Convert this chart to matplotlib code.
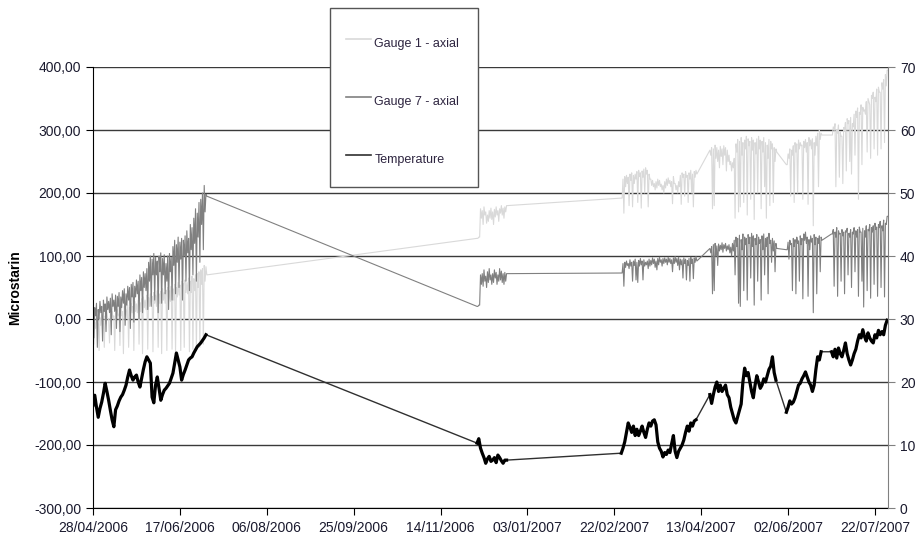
import matplotlib
matplotlib.use('Agg')
import matplotlib.pyplot as plt
import matplotlib.dates as mdates
from matplotlib.patches import Rectangle
from matplotlib.ticker import FuncFormatter

plt.rcParams['font.family'] = ['Liberation Sans', 'DejaVu Sans']

# start date of each logged block (one reading pair per day)
seg_start = ['2006-04-28', '2006-12-05', '2007-02-26', '2007-04-18', '2007-06-01', '2007-06-27']

# Gauge 1 - axial, daily high / low (microstrain)
g1_hi = [
    [0, -5, 5, -8, 2, 8, -2, 5, 10, 0, 8, 12, 5, 10, 15, 8, 18, 12, 20, 15,
     22, 18, 25, 20, 28, 24, 30, 26, 32, 35, 30, 38, 34, 40, 36, 42, 38, 45, 40, 44,
     48, 42, 46, 50, 45, 52, 48, 55, 50, 58, 54, 60, 56, 62, 58, 65, 60, 68, 64, 70,
     72, 75, 78, 80, 85, 83],
    [128, 130, 175, 172, 178, 170, 165, 172, 176, 170, 174, 178, 172, 175, 180, 176, 178, 180],
    [192, 222, 226, 228, 225, 230, 232, 228, 230, 234, 236, 232, 235, 238, 240, 236, 230, 222, 220, 215,
     218, 222, 220, 214, 212, 218, 222, 224, 220, 218, 226, 215, 212, 218, 228, 232, 230, 234, 228, 232,
     236, 230, 234, 236],
    [268, 272, 270, 276, 272, 268, 274, 270, 275, 272, 268, 260, 250, 248, 255, 278, 285, 282, 288, 280,
     284, 290, 286, 282, 288, 284, 280, 286, 290, 284, 282, 288, 280, 276, 285, 282, 278, 272, 270],
    [245, 262, 270, 268, 275, 280, 278, 284, 280, 276, 282, 285, 280, 288, 284, 286, 280, 290, 295, 300, 295],
    [292, 305, 310, 300, 308, 296, 290, 304, 312, 318, 315, 320, 310, 325, 330, 335, 328, 340, 336, 332,
     345, 350, 340, 355, 360, 352, 365, 368, 360, 375, 380, 388, 395],
]
g1_lo = [
    [-40, -15, -5, -50, -10, -2, -45, -8, 0, -38, -5, 2, -50, 0, 5, -42, 5, -55, 8, 2,
     -45, 5, 10, -50, 12, 10, -40, 12, -55, 18, 15, -48, 20, 22, -52, 25, 20, -45, 25, -55,
     30, 25, -50, 30, 28, -48, 30, -52, 35, 38, -50, 40, -45, 42, 40, -52, 42, -48, 45, -50,
     50, -45, 55, -40, 60, 70],
    [128, 130, 160, 150, 165, 152, 155, 160, 158, 150, 162, 165, 155, 168, 165, 160, 170, 180],
    [192, 168, 210, 215, 180, 220, 178, 215, 222, 185, 226, 176, 225, 200, 230, 178, 222, 212, 210, 205,
     208, 212, 210, 205, 200, 208, 212, 215, 210, 183, 215, 205, 200, 210, 182, 225, 195, 225, 185, 222,
     200, 178, 225, 230],
    [260, 175, 180, 255, 250, 240, 258, 245, 260, 235, 250, 245, 235, 240, 160, 265, 170, 178, 260, 185,
     270, 165, 275, 190, 268, 158, 262, 200, 270, 175, 265, 210, 160, 255, 180, 270, 185, 250, 265],
    [245, 255, 195, 260, 185, 265, 200, 270, 275, 190, 272, 265, 182, 275, 270, 148, 260, 275, 210, 285, 292],
    [292, 300, 210, 295, 225, 290, 215, 298, 235, 310, 250, 230, 305, 260, 320, 190, 325, 245, 330, 325,
     265, 345, 255, 350, 270, 345, 260, 360, 270, 365, 280, 370, 395],
]

# Gauge 7 - axial, daily high / low (microstrain)
g7_hi = [
    [22, 18, 25, 15, 28, 20, 30, 24, 35, 28, 33, 40, 30, 38, 36, 42, 35, 45, 48, 40,
     52, 50, 55, 58, 52, 62, 60, 70, 66, 75, 72, 80, 90, 100, 95, 104, 98, 92, 100, 105,
     96, 102, 88, 100, 104, 98, 115, 125, 118, 130, 122, 128, 125, 132, 140, 128, 150, 145, 160, 175,
     168, 185, 190, 200, 212, 198],
    [20, 22, 70, 72, 78, 68, 75, 80, 70, 72, 78, 74, 70, 80, 76, 72, 74, 72],
    [73, 88, 90, 92, 88, 94, 90, 92, 95, 90, 93, 96, 92, 94, 90, 92, 95, 93, 97, 95,
     92, 96, 98, 94, 96, 97, 95, 98, 96, 94, 97, 99, 96, 98, 95, 94, 97, 95, 93, 96,
     98, 95, 97, 99],
    [112, 115, 118, 120, 116, 119, 117, 121, 118, 120, 116, 118, 114, 120, 125, 130, 128, 133, 126, 135,
     130, 128, 134, 130, 136, 132, 128, 134, 130, 126, 132, 135, 128, 130, 136, 125, 128, 124, 120],
    [110, 122, 125, 120, 128, 126, 130, 124, 132, 128, 135, 138, 130, 126, 132, 128, 134, 130, 128, 132, 130],
    [135, 142, 138, 145, 140, 136, 142, 138, 140, 144, 136, 142, 138, 145, 140, 142, 146, 138, 144, 140,
     148, 142, 150, 145, 148, 152, 146, 150, 155, 148, 157, 152, 163],
]
g7_lo = [
    [-30, 5, -45, 0, 10, -35, 12, -20, 15, 10, -25, 20, 12, -15, 20, -20, 18, 25, -10, 22,
     30, -15, 35, -5, 35, 40, 0, 45, 10, 50, 45, 15, 60, 20, 70, 30, 70, 10, 75, 25,
     70, 40, 60, 15, 75, 30, 85, 40, 90, 50, 95, 30, 100, 60, 105, 45, 110, 70, 120, 60,
     130, 90, 150, 110, 170, 195],
    [20, 22, 55, 52, 60, 50, 58, 62, 55, 58, 65, 55, 60, 62, 58, 55, 60, 72],
    [73, 52, 82, 85, 80, 84, 60, 85, 62, 58, 84, 86, 62, 84, 86, 80, 84, 86, 88, 82,
     78, 86, 90, 84, 88, 90, 86, 90, 88, 75, 88, 90, 85, 78, 86, 65, 88, 62, 85, 60,
     88, 64, 90, 92],
    [105, 40, 45, 100, 85, 108, 110, 106, 112, 108, 110, 105, 100, 108, 70, 115, 25, 20, 110, 45,
     118, 30, 120, 65, 115, 22, 118, 60, 120, 30, 110, 70, 115, 40, 120, 90, 108, 75, 112],
    [110, 95, 118, 45, 115, 40, 120, 60, 118, 32, 125, 120, 36, 110, 122, 10, 118, 40, 120, 75, 125],
    [135, 52, 130, 36, 135, 60, 132, 40, 138, 70, 130, 50, 135, 75, 130, 36, 138, 60, 19, 130,
     45, 140, 33, 138, 55, 142, 36, 145, 50, 140, 35, 150, 163],
]

# Temperature, daily (deg C, right axis)
temp = [
    [16.3, 17.9, 16.0, 14.4, 15.8, 16.8, 18.2, 19.8, 18.5, 17.1, 15.5, 14.0, 12.9, 15.6, 16.2, 17.0, 17.6, 18.0, 18.7, 19.5,
     20.8, 21.9, 21.0, 20.3, 20.8, 21.1, 20.0, 19.2, 20.6, 22.0, 23.2, 24.0, 23.5, 23.0, 17.6, 16.7, 19.5, 20.8, 19.0, 17.1,
     18.0, 18.7, 19.0, 19.4, 19.8, 20.6, 21.4, 23.0, 24.6, 23.5, 22.4, 20.3, 21.2, 21.9, 22.7, 23.5, 23.8, 24.0, 24.6, 25.1,
     25.6, 25.9, 26.2, 26.6, 27.0, 27.5],
    [10.3, 11.0, 9.5, 8.7, 8.0, 7.1, 7.8, 8.2, 7.4, 7.6, 8.0, 7.2, 8.4, 8.0, 7.5, 7.1, 7.6, 7.6],
    [8.7, 9.5, 10.5, 12.0, 13.5, 12.8, 12.0, 13.0, 11.5, 12.5, 11.5, 12.2, 13.0, 12.0, 11.2, 12.5, 13.5, 13.0, 13.8, 14.0,
     13.2, 10.5, 9.5, 9.0, 8.1, 8.8, 8.5, 9.2, 8.8, 10.2, 11.5, 9.0, 8.0, 9.0, 9.5, 10.0, 10.8, 12.0, 13.0, 12.2,
     13.5, 13.0, 13.8, 14.0],
    [18.0, 16.6, 18.0, 19.2, 20.0, 18.5, 19.5, 18.5, 19.0, 19.5, 18.0, 17.5, 16.0, 15.0, 14.0, 13.5, 14.5, 15.5, 16.5, 20.0,
     22.2, 21.0, 21.5, 20.0, 18.5, 17.5, 19.5, 21.0, 20.0, 19.0, 19.5, 20.5, 20.0, 21.0, 22.0, 22.5, 24.0, 21.5, 20.3],
    [15.2, 16.0, 17.0, 16.5, 16.8, 17.5, 18.5, 19.5, 19.8, 20.5, 21.0, 21.6, 20.8, 20.0, 19.5, 18.5, 19.5, 22.0, 24.0, 23.5, 24.8],
    [24.8, 24.0, 25.2, 23.8, 25.4, 24.5, 24.0, 25.0, 26.2, 24.5, 23.5, 22.7, 23.5, 24.5, 25.2, 26.5, 27.5, 27.0, 28.3, 27.2,
     26.5, 27.8, 27.0, 26.5, 26.2, 27.5, 27.0, 28.2, 27.5, 28.0, 27.5, 29.0, 29.8],
]

tick_dates = ['2006-04-28', '2006-06-17', '2006-08-06', '2006-09-25', '2006-11-14',
              '2007-01-03', '2007-02-22', '2007-04-13', '2007-06-02', '2007-07-22']


def gauge_series(hi, lo):
    xs, ys = [], []
    for s, h, l in zip(seg_start, hi, lo):
        t0 = mdates.datestr2num(s)
        for i in range(len(h)):
            xs += [t0 + i, t0 + i + 0.5]
            ys += [h[i], l[i]]
    return xs, ys


def temp_segments():
    segs = []
    for s, t in zip(seg_start, temp):
        t0 = mdates.datestr2num(s)
        segs.append(([t0 + i for i in range(len(t))], t))
    return segs


fig = plt.figure(figsize=(9.16, 5.38), dpi=100)
ax = fig.add_axes([93 / 916, 1 - 508 / 538, (888 - 93) / 916, (508 - 67) / 538])
ax2 = ax.twinx()

x1, y1 = gauge_series(g1_hi, g1_lo)
x7, y7 = gauge_series(g7_hi, g7_lo)
h1, = ax.plot(x1, y1, color='#d9d9d9', lw=0.8, label='Gauge 1 - axial')
h7, = ax.plot(x7, y7, color='#808080', lw=0.8, label='Gauge 7 - axial')

segs = temp_segments()
tx = [v for s in segs for v in s[0]]
ty = [v for s in segs for v in s[1]]
ht, = ax2.plot(tx, ty, color='#303030', lw=1.0, label='Temperature')
for sx, sy in segs:
    ax2.plot(sx, sy, color='black', lw=2.3)

t_start = mdates.datestr2num('2006-04-28')
ax.set_xlim(t_start, t_start + 457.5)
ax.set_ylim(-300, 400)
ax2.set_ylim(0, 70)

ax.set_yticks(range(-300, 401, 100))
ax.yaxis.set_major_formatter(FuncFormatter(lambda v, p: f'{v:.2f}'.replace('.', ',')))
ax2.set_yticks(range(0, 71, 10))

ax.set_xticks([mdates.datestr2num(d) for d in tick_dates])
ax.xaxis.set_major_formatter(mdates.DateFormatter('%d/%m/%Y'))

ax.grid(axis='y', color='#3a3a3a', lw=1.0)
ax.set_axisbelow(True)

for a in (ax, ax2):
    a.spines['top'].set_visible(False)
ax.spines['right'].set_visible(False)
ax2.spines['left'].set_visible(False)
ax2.spines['bottom'].set_visible(False)
ax.spines['left'].set_color('black')
ax.spines['bottom'].set_color('black')
ax2.spines['right'].set_color('#808080')

ax.tick_params(axis='both', direction='out', length=5, labelsize=10, colors='#1a1a2e')
ax.tick_params(axis='x', pad=4)
ax2.tick_params(axis='y', direction='out', length=5, labelsize=10, colors='#1a1a2e', color='#808080')
ax.tick_params(axis='both', color='black')

fig.text(15 / 916, 1 - 287.5 / 538, 'Microstarin', rotation=90, ha='center', va='center',
         fontsize=10, fontweight='bold')

# legend box drawn separately so the rows can sit where they do in the original
fig.patches.append(Rectangle((330 / 916, 1 - 187 / 538), 148 / 916, 179 / 538,
                             transform=fig.transFigure, facecolor='white',
                             edgecolor='#555555', lw=1.0, zorder=3))
leg = fig.legend(handles=[h1, h7, ht], loc='upper left',
                 bbox_to_anchor=(330 / 916, 1 - 15 / 538), bbox_transform=fig.transFigure,
                 fontsize=9, frameon=False, borderpad=1.3,
                 handlelength=2.0, handleheight=2.5, handletextpad=0.25, labelspacing=2.76,
                 borderaxespad=0)
leg.set_zorder(4)
for t in leg.get_texts():
    t.set_color('#2e2540')
for lh in leg.get_lines():
    lh.set_linewidth(1.2)

fig.savefig('out.png', dpi=100)
